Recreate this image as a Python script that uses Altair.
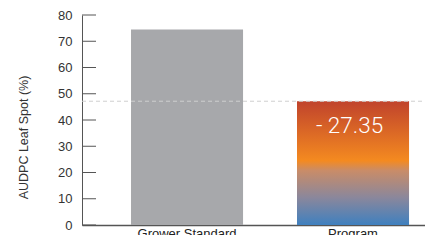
import altair as alt
import pandas as pd

categories = ["Grower Standard", "Program"]
values = [74.5, 47.15]
reduction_label = ["- 27.35"]
y_ticks = [0, 10, 20, 30, 40, 50, 60, 70, 80]

W = 343
H = 210

df = pd.DataFrame({"treatment": categories, "audpc": values})
ticks_df = pd.DataFrame({"audpc": y_ticks})
lab_df = pd.DataFrame({"treatment": [categories[1]], "audpc": [values[1]], "label": reduction_label})
ref_df = pd.DataFrame({"audpc": [values[1]]})

xscale = alt.Scale(domain=categories, paddingInner=0.325, paddingOuter=0.1957, align=0.7544)
yscale = alt.Scale(domain=[0, 80], nice=False)

FONT = "Liberation Sans"

x_axis = alt.Axis(title=None, labelAngle=0, labelFont=FONT, labelFontSize=13,
                  labelColor="#222", labelPadding=2, tickSize=0,
                  domainColor="#555", domainWidth=1.5)
y_axis = alt.Axis(title="AUDPC Leaf Spot (%)", values=y_ticks, grid=False,
                  tickSize=0, labelPadding=10, labelFont=FONT, labelFontSize=13,
                  labelColor="#333", labelOverlap=False, labelFlush=False,
                  titleFont=FONT, titleFontSize=12.5,
                  titleFontWeight="normal", titleColor="#333", titlePadding=27,
                  titleY=122,
                  domainColor="#555", domainWidth=1)

x_enc = alt.X("treatment:N", scale=xscale, sort=categories, axis=x_axis)
y_enc = alt.Y("audpc:Q", scale=yscale, axis=y_axis)

base = alt.Chart(df).encode(x=x_enc, y=y_enc)

gray_bar = base.transform_filter(alt.datum.treatment == categories[0]).mark_bar(color="#a7a8ab")

grad = alt.Gradient(
    gradient="linear", x1=0, x2=0, y1=0, y2=1,
    stops=[
        alt.GradientStop(offset=0, color="#c0432c"),
        alt.GradientStop(offset=0.48, color="#f48a20"),
        alt.GradientStop(offset=0.56, color="#c98c68"),
        alt.GradientStop(offset=0.78, color="#8a879c"),
        alt.GradientStop(offset=1, color="#3f80bf"),
    ],
)
prog_bar = base.transform_filter(alt.datum.treatment == categories[1]).mark_bar(color=grad)

ticks = alt.Chart(ticks_df).mark_rule(color="#555", strokeWidth=1).encode(
    y=y_enc, x=alt.value(0), x2=alt.value(14)
)

ref = alt.Chart(ref_df).mark_rule(color="#cfcfcf", strokeDash=[4, 3], strokeWidth=1).encode(
    y=y_enc, x=alt.value(0), x2=alt.value(W)
)

label = alt.Chart(lab_df).mark_text(
    font="Roboto", fontSize=22.5, fontWeight=300, color="white", dy=25, dx=-3.5, baseline="middle"
).encode(
    x=x_enc,
    y=y_enc,
    text="label:N",
)

chart = alt.layer(gray_bar, prog_bar, ref, ticks, label).properties(
    width=W, height=H,
    autosize=alt.AutoSizeParams(type="none"),
    padding={"left": 74, "top": 7, "right": 0, "bottom": 10},
).configure_view(stroke=None)

chart.save("out.html", embed_options={"renderer": "svg", "actions": False})
